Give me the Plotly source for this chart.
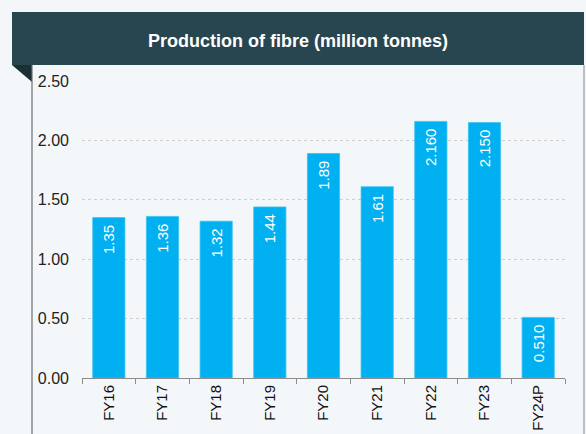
import plotly.graph_objects as go

categories = ["FY16", "FY17", "FY18", "FY19", "FY20", "FY21", "FY22", "FY23", "FY24P"]
values = [1.35, 1.36, 1.32, 1.44, 1.89, 1.61, 2.160, 2.150, 0.510]
labels = ["1.35", "1.36", "1.32", "1.44", "1.89", "1.61", "2.160", "2.150", "0.510"]
y_ticks = [0, 0.5, 1.0, 1.5, 2.0, 2.5]
y_tick_text = ["0.00", "0.50", "1.00", "1.50", "2.00", "2.50"]
title = "Production of fibre (million tonnes)"

W, H = 586, 434
L, R, T, B = 82, 21, 81, 56
pw, ph = W - L - R, H - T - B

def px(x):
    return (x - L) / pw

def py(y):
    return (H - B - y) / ph

FONT = "Liberation Sans, Arial"

fig = go.Figure(go.Bar(
    x=categories, y=values, text=[t + "\u00a0" for t in labels],
    textposition="inside", insidetextanchor="end", textangle=-90,
    textfont=dict(color="white", size=15, family=FONT),
    marker=dict(color="#00b0f0", line=dict(color="#3cc3f3", width=0.8)),
    width=0.6, cliponaxis=False,
))

shapes = [
    dict(type="rect", xref="paper", yref="paper", x0=px(12), x1=px(584), y0=py(65), y1=py(12),
         fillcolor="#28464f", line=dict(width=0), layer="below"),
    dict(type="path", xref="paper", yref="paper",
         path=f"M {px(12)} {py(65)} L {px(32)} {py(65)} L {px(32)} {py(82)} Z",
         fillcolor="#1c2f35", line=dict(width=0), layer="below"),
    dict(type="line", xref="paper", yref="paper", x0=px(32), x1=px(32), y0=py(65), y1=py(440),
         line=dict(color="#6e6e6e", width=1.2)),
    dict(type="line", xref="paper", yref="paper", x0=px(584), x1=px(584), y0=py(65), y1=py(440),
         line=dict(color="#9a9a9a", width=1.2)),
]

fig.update_layout(
    width=W, height=H,
    margin=dict(l=L, r=R, t=T, b=B),
    paper_bgcolor="#f4f7f9", plot_bgcolor="#f4f7f9",
    showlegend=False,
    shapes=shapes,
    annotations=[dict(text=f"<b>{title}</b>", xref="paper", yref="paper",
                      x=px(298), y=py(41), xanchor="center", yanchor="middle",
                      showarrow=False, font=dict(color="white", size=18, family=FONT))],
    font=dict(family=FONT, color="#222"),
    bargap=0.4,
)
fig.update_xaxes(
    automargin=False,
    showline=True, linecolor="#8c8c8c", linewidth=1,
    ticks="outside", tickson="boundaries", ticklen=5, tickcolor="#8c8c8c",
    tickangle=-90, tickfont=dict(size=15, color="#111"), showgrid=False,
)
fig.update_yaxes(
    automargin=False,
    range=[0, 2.5], tickvals=y_ticks, ticktext=y_tick_text,
    showgrid=True, gridcolor="#cfcfcf", griddash="dot", gridwidth=1,
    zeroline=False, showline=False, ticks="",
    tickfont=dict(size=16, color="#222"), ticklabelstandoff=12,
)

fig.write_html("out.html", config={"displayModeBar": False},
               post_script="document.body.style.margin='0';document.body.style.background='#f4f7f9';")
